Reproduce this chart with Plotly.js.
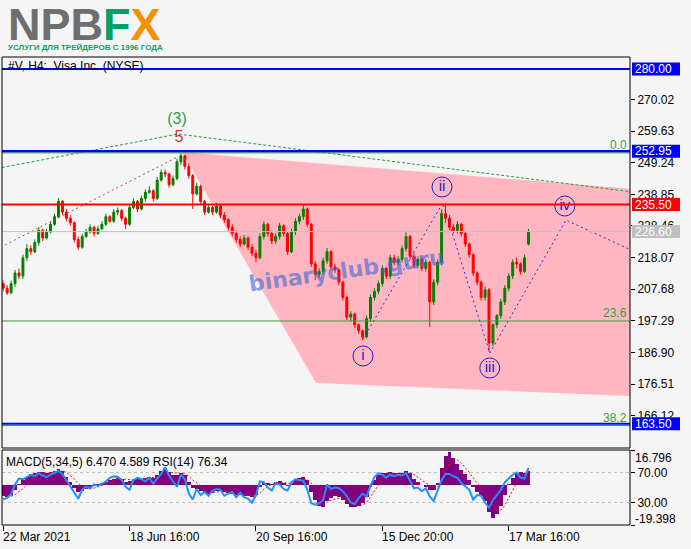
<!DOCTYPE html>
<html><head><meta charset="utf-8">
<script src="https://cdn.plot.ly/plotly-3.0.1.min.js"></script>
<style>html,body{margin:0;padding:0;background:#f5f5f5;}#chart{width:691px;height:549px;}</style>
</head><body><div id="chart"></div>
<script>
// ---- price data (H4 candles) ----
const opens=[
209.5,208.0,206.5,209.5,213.0,212.0,218.0,221.0,220.0,223.0,
227.0,224.5,226.5,229.0,231.5,236.5,233.0,231.0,229.5,224.0,
221.5,225.0,226.5,228.0,226.0,227.5,229.0,231.5,230.0,233.0,
233.5,231.0,229.0,234.5,236.5,234.0,237.5,239.5,240.0,237.5,
243.5,246.0,245.5,242.0,244.0,249.5,251.5,248.0,245.0,239.0,
241.5,236.5,233.0,234.5,233.0,235.0,232.0,230.5,228.0,226.0,
224.0,222.5,224.5,221.5,219.5,218.0,225.0,229.0,226.0,223.5,
225.0,228.5,226.0,220.0,226.5,230.0,231.5,234.0,229.0,216.0,
212.5,213.5,217.0,220.0,215.0,214.0,210.0,205.0,198.5,199.5,
196.0,194.0,192.0,198.0,205.0,207.0,209.5,214.5,212.0,218.0,
216.5,217.5,221.0,225.0,218.5,215.5,217.5,214.5,216.5,203.5,
210.0,216.5,232.5,231.0,228.0,227.0,229.0,226.0,222.5,219.0,
213.0,210.0,205.0,207.5,190.0,196.0,199.0,203.5,208.0,212.0,
216.5,216.0,213.5,222.5];
const highs=[
210.5,209.0,210.5,214.0,214.5,219.0,222.5,222.0,224.0,228.0,
227.5,227.5,230.0,232.5,237.6,237.0,234.0,232.0,230.0,225.0,
225.8,227.5,229.0,228.5,228.5,230.0,232.5,232.0,234.0,234.5,
234.0,231.5,235.5,237.5,237.0,238.5,240.5,241.5,240.5,244.5,
247.0,247.0,246.0,245.0,250.5,252.4,251.8,249.0,245.5,242.6,
242.0,237.0,235.5,235.0,236.0,235.5,233.0,231.0,229.0,227.0,
225.0,225.5,225.0,222.5,220.5,226.0,230.0,229.5,227.0,226.0,
229.5,229.0,226.5,227.5,231.0,232.5,235.6,234.5,229.5,217.0,
214.5,218.0,221.2,220.5,216.0,214.5,210.5,205.5,200.5,200.0,
196.5,194.5,199.0,206.0,208.0,210.5,215.5,215.0,219.0,219.0,
218.5,222.0,226.4,225.5,219.5,218.5,218.0,217.5,217.0,211.0,
217.5,234.0,235.9,232.0,229.0,230.0,229.5,226.5,223.0,219.5,
213.5,210.5,208.5,208.0,196.5,199.5,204.5,209.0,213.0,217.5,
218.0,216.5,219.0,227.5];
const lows=[
207.0,205.8,206.0,208.5,211.0,211.0,217.0,219.0,219.5,222.0,
223.5,224.0,226.0,228.5,231.0,232.0,230.0,228.5,223.0,220.6,
221.0,224.5,226.0,225.0,225.5,227.0,228.5,229.5,229.5,232.0,
230.0,227.5,228.5,234.0,233.0,233.5,236.5,239.0,236.5,237.0,
243.0,244.5,241.0,241.5,243.5,248.5,247.0,244.0,234.0,238.5,
235.5,232.0,232.5,232.0,232.5,231.0,229.5,227.0,225.0,223.0,
221.5,222.0,220.5,218.5,216.6,217.5,224.0,225.0,222.5,222.5,
224.0,225.0,219.0,219.5,225.5,229.0,230.5,228.0,215.0,210.7,
211.5,212.5,216.0,214.0,213.0,209.0,204.0,197.5,197.0,195.0,
193.0,190.9,191.5,197.0,204.0,206.0,208.5,211.0,211.0,215.5,
215.5,216.5,220.0,217.5,214.5,214.5,213.5,213.5,195.3,202.5,
209.0,215.5,229.5,227.0,226.0,226.0,225.0,221.5,218.0,212.0,
209.0,204.0,204.0,187.1,189.0,195.0,198.0,202.5,207.0,211.0,
214.5,212.5,213.0,222.0];
const closes=[
208.0,206.5,209.5,213.0,212.0,218.0,221.0,220.0,223.0,227.0,
224.5,226.5,229.0,231.5,236.5,233.0,231.0,229.5,224.0,221.5,
225.0,226.5,228.0,226.0,227.5,229.0,231.5,230.0,233.0,233.5,
231.0,229.0,234.5,236.5,234.0,237.5,239.5,240.0,237.5,243.5,
246.0,245.5,242.0,244.0,249.5,251.5,248.0,245.0,239.0,241.5,
236.5,233.0,234.5,233.0,235.0,232.0,230.5,228.0,226.0,224.0,
222.5,224.5,221.5,219.5,218.0,225.0,229.0,226.0,223.5,225.0,
228.5,226.0,220.0,226.5,230.0,231.5,234.0,229.0,216.0,212.5,
213.5,217.0,220.0,215.0,214.0,210.0,205.0,198.5,199.5,196.0,
194.0,192.0,198.0,205.0,207.0,209.5,214.5,212.0,218.0,216.5,
217.5,221.0,225.0,218.5,215.5,217.5,214.5,216.5,203.5,210.0,
216.5,232.5,231.0,228.0,227.0,229.0,226.0,222.5,219.0,213.0,
210.0,205.0,207.5,190.0,196.0,199.0,203.5,208.0,212.0,216.5,
216.0,213.5,218.0,226.6];
// ---- indicator data ----
const macd=[
-5.5,-6.0,-5.0,-2.5,0.5,2.5,4.0,5.0,5.5,6.0,
6.0,5.8,6.2,6.8,7.8,6.5,4.0,1.5,-1.5,-3.5,
-3.0,-2.0,-1.0,-0.5,0.3,0.8,1.5,2.5,3.0,3.5,
3.0,1.5,2.0,2.5,2.8,3.0,3.5,4.0,3.5,4.5,
6.5,8.3,6.0,4.8,4.5,5.5,4.5,1.5,-1.5,-1.8,
-3.0,-4.0,-4.2,-3.8,-3.0,-3.0,-3.5,-4.0,-4.5,-5.0,
-5.0,-5.2,-5.5,-6.0,-5.0,-1.0,1.0,1.0,0.5,1.2,
1.8,1.0,-0.5,1.0,2.5,3.5,4.0,2.5,-3.5,-7.5,
-10.0,-10.5,-8.0,-6.5,-5.5,-6.0,-7.5,-9.5,-10.5,-10.8,
-10.0,-9.0,-6.0,-1.0,2.5,4.5,5.5,5.5,6.0,5.8,
5.5,5.8,6.5,5.5,3.0,1.5,0.0,-1.0,-2.5,-2.5,
1.0,8.0,14.0,15.7,13.0,10.0,7.0,5.0,2.5,-1.0,
-3.5,-5.5,-8.0,-13.0,-15.8,-14.0,-10.0,-5.0,0.5,3.5,
5.5,6.2,5.8,6.47];
const signal=[
-5.0,-5.4,-5.5,-4.8,-3.5,-1.8,0.0,1.8,3.2,4.3,
5.1,5.5,5.8,6.1,6.6,6.7,6.0,4.6,2.8,0.8,
-0.8,-1.7,-1.9,-1.6,-1.0,-0.4,0.3,1.1,1.8,2.5,
2.8,2.6,2.4,2.4,2.5,2.7,3.0,3.4,3.5,3.8,
4.5,5.6,6.0,5.9,5.6,5.5,5.2,4.1,2.3,0.8,
-0.6,-1.9,-2.9,-3.4,-3.4,-3.3,-3.3,-3.5,-3.8,-4.2,
-4.6,-4.9,-5.1,-5.4,-5.3,-4.1,-2.2,-0.6,0.2,0.7,
1.1,1.1,0.7,0.6,1.1,1.8,2.6,2.6,0.9,-1.9,
-4.8,-7.2,-7.9,-7.6,-6.9,-6.5,-6.7,-7.5,-8.5,-9.5,
-9.9,-9.7,-8.5,-5.9,-2.9,-0.1,2.2,3.8,4.9,5.4,
5.5,5.6,5.9,5.8,4.9,3.7,2.3,0.8,-0.4,-1.3,
-0.9,2.1,6.4,10.3,12.3,12.0,10.5,8.4,6.0,3.4,
0.9,-1.5,-4.0,-6.9,-10.1,-12.3,-12.3,-10.0,-6.2,-2.3,
1.1,3.7,5.1,4.589];
const rsi=[
34,36,41,54,62,61,64,67,65,69,
66,64,67,70,72,68,60,51,44,35,
47,51,49,54,52,55,58,63,65,64,
60,51,47,60,63,61,58,63,55,62,
68,77,66,58,51,67,61,42,34,48,
40,44,39,46,48,47,39,42,44,37,
43,37,35,30,40,58,57,50,46,56,
54,48,46,57,61,60,59,47,29,27,
29,33,54,48,50,49,45,38,30,28,
36,42,38,52,64,69,67,63,67,65,
67,66,69,59,49,50,45,49,38,32,
46,60,68,68,65,63,56,51,47,34,
40,39,30,23,33,40,47,57,62,67,
70,63,62,76.34];
// ---- axes / labels ----
const xTickBars=[0,32,64,96,128];
const xTickLabels=['22 Mar 2021','18 Jun 16:00','20 Sep 16:00','15 Dec 20:00','17 Mar 16:00'];
const priceTicks=[166.12,176.51,186.90,197.29,207.68,218.07,228.46,238.85,249.24,259.63,270.02];
const levelValues=[280.00,252.95,235.50,226.60,163.50];
const levelColors=['#0000ff','#0000ff','#ff0000','#c0c0c0','#0000ff'];
const levelWidths=[2,2.5,2,1,2];
const fibValues=[252.45,197.25,162.9];
const fibLabels=['0.0','23.6','38.2'];
const macdLabels=['16.796','-19.398'];
const macdRange=[-19.398,16.796];
const rsiLevels=[70,30];
// ---- drawn objects (bar index, price) ----
const channelBars=[45.3,160,160,79.2];
const channelPrices=[252.7,240.5,172.5,176.9];
const waveBars=[91.1,111.3,123.2,142.5,161.2];
const wavePrices=[191.3,236.0,186.7,230.4,219.2];
const waveLabelBars=[91.1,111.1,123.2,142.2];
const waveLabelPrices=[185.75,241.25,181.8,235.0];
const waveLabels=['i','ii','iii','iv'];
const trendGreenBars=[-0.3,44.25,161.2];
const trendGreenPrices=[247.65,258.65,239.3];
const trendRedBars=[0.45,44.3];
const trendRedPrices=[222.2,251.2];
const degreeBars=[44.0,44.5];
const degreePrices=[263.3,257.3];
const degreeLabels=['(3)','5'];
const degreeColors=['#3a9a4a','#c83232'];

const bars=closes.map((_,i)=>i);
const FONT='Liberation Sans, Arial, sans-serif';
const PL=2,PT=57,PW=628,PH=468;
const px=(v)=>(v-PL)/PW, py=(v)=>(PT+PH-v)/PH;

const traces=[
 {type:'candlestick',x:bars,open:opens,high:highs,low:lows,close:closes,xaxis:'x',yaxis:'y',
  increasing:{line:{color:'#008000',width:1},fillcolor:'#008000'},
  decreasing:{line:{color:'#ff0000',width:1},fillcolor:'#ff0000'},
  whiskerwidth:0,hoverinfo:'skip',showlegend:false},
 {type:'scatter',mode:'lines',x:trendGreenBars,y:trendGreenPrices,line:{color:'#2f9a2f',width:1,dash:'3px,2px'},hoverinfo:'skip',showlegend:false},
 {type:'scatter',mode:'lines',x:trendRedBars,y:trendRedPrices,line:{color:'#b04848',width:1,dash:'2px,3px'},hoverinfo:'skip',showlegend:false},
 {type:'scatter',mode:'lines',x:waveBars,y:wavePrices,line:{color:'#2a2ad0',width:1,dash:'2px,3px'},hoverinfo:'skip',showlegend:false},
 {type:'scatter',mode:'markers+text',x:waveLabelBars,y:waveLabelPrices,text:waveLabels,textposition:'middle center',
  textfont:{family:FONT,size:15,color:'#2020d0'},
  marker:{symbol:'circle-open',size:20,color:'#2020d0',line:{width:1,color:'#2020d0'}},cliponaxis:false,hoverinfo:'skip',showlegend:false},
 {type:'scatter',mode:'text',x:degreeBars,y:degreePrices,text:degreeLabels,textposition:'middle center',
  textfont:{family:FONT,size:16,color:degreeColors},cliponaxis:false,hoverinfo:'skip',showlegend:false},
 {type:'bar',x:bars,y:macd,xaxis:'x',yaxis:'y2',width:1,marker:{color:'#800080',line:{width:0}},hoverinfo:'skip',showlegend:false},
 {type:'scatter',mode:'lines',x:bars,y:signal,xaxis:'x',yaxis:'y2',line:{color:'#ff0000',width:1,dash:'2px,2px'},hoverinfo:'skip',showlegend:false},
 {type:'scatter',mode:'lines',x:bars,y:rsi,xaxis:'x',yaxis:'y3',line:{color:'#1e90ff',width:2},hoverinfo:'skip',showlegend:false}
];

const shapes=[];
// channel
let path='M'+channelBars.map((b,i)=>b+','+channelPrices[i]).join(' L')+' Z';
shapes.push({type:'path',xref:'x',yref:'y',path:path,fillcolor:'#ffb6c1',line:{width:0},layer:'below'});
// horizontal levels
levelValues.forEach((v,i)=>{
 shapes.push({type:'line',xref:'paper',yref:'y',x0:0,x1:1,y0:v,y1:v,line:{color:levelColors[i],width:levelWidths[i]},layer:'above'});
});
fibValues.forEach(v=>{
 shapes.push({type:'line',xref:'paper',yref:'y',x0:0,x1:1,y0:v,y1:v,line:{color:'#3c9c3c',width:1},layer:'above'});
});
// rsi levels
rsiLevels.forEach(v=>{
 shapes.push({type:'line',xref:'paper',yref:'y3',x0:0,x1:1,y0:v,y1:v,line:{color:'#c0c0c0',width:1,dash:'3px,3px'},layer:'below'});
});
// price boxes on right axis
levelValues.forEach((v,i)=>{
 shapes.push({type:'rect',xref:'paper',yref:'y',xsizemode:'pixel',ysizemode:'pixel',xanchor:1,yanchor:v,
  x0:2,x1:50,y0:-6.5,y1:6.5,fillcolor:levelColors[i],line:{width:0},layer:'above'});
});
// panel borders
shapes.push({type:'rect',xref:'paper',yref:'paper',x0:0,x1:1,y0:py(448),y1:1,line:{color:'#000',width:1},layer:'above'});
shapes.push({type:'rect',xref:'paper',yref:'paper',x0:0,x1:1,y0:0,y1:py(450),line:{color:'#000',width:1},layer:'above'});

const ann=[];
levelValues.forEach(v=>{
 ann.push({xref:'paper',yref:'y',x:1,y:v,xanchor:'left',yanchor:'middle',xshift:3,text:v.toFixed(2),showarrow:false,
  font:{family:FONT,size:12,color:'#ffffff'}});
});
fibValues.forEach((v,i)=>{
 ann.push({xref:'paper',yref:'y',x:1,y:v,xanchor:'right',yanchor:'bottom',xshift:-1,yshift:-1,text:fibLabels[i],showarrow:false,
  font:{family:FONT,size:12,color:'#3c9c3c'}});
});
xTickBars.forEach((b,i)=>{
 ann.push({xref:'x',yref:'paper',x:b,y:0,xanchor:'left',yanchor:'top',yshift:-3,xshift:-2,text:xTickLabels[i],showarrow:false,
  font:{family:FONT,size:12,color:'#000'}});
});
ann.push({xref:'paper',yref:'paper',x:1,y:py(457.5),xanchor:'left',yanchor:'middle',xshift:3,text:macdLabels[0],showarrow:false,font:{family:FONT,size:12,color:'#000'}});
ann.push({xref:'paper',yref:'paper',x:1,y:py(519),xanchor:'left',yanchor:'middle',xshift:3,text:macdLabels[1],showarrow:false,font:{family:FONT,size:12,color:'#000'}});
ann.push({xref:'paper',yref:'paper',x:px(4),y:py(462),xanchor:'left',yanchor:'middle',
 text:'MACD(5,34,5) '+macd[macd.length-1].toFixed(3)+' '+signal[signal.length-1].toFixed(3)+' RSI(14) '+rsi[rsi.length-1].toFixed(2),
 showarrow:false,font:{family:FONT,size:12,color:'#000'}});
ann.push({xref:'paper',yref:'paper',x:px(6),y:py(66),xanchor:'left',yanchor:'middle',text:'#V, H4:\u00a0 Visa Inc. (NYSE)',
 showarrow:false,font:{family:FONT,size:12,color:'#000'}});
ann.push({xref:'paper',yref:'paper',x:px(346),y:py(270),xanchor:'center',yanchor:'middle',text:'binaryclub.guru',textangle:-8,
 showarrow:false,font:{family:'DejaVu Sans, sans-serif',size:22,color:'rgba(60,100,210,0.62)',weight:'bold'}});
// logo
ann.push({xref:'paper',yref:'paper',x:px(6),y:py(24),xanchor:'left',yanchor:'middle',
 text:'<span style="color:#6d6e71">NPB</span><span style="color:#00a06a">F</span><span style="color:#f39200">X</span>',
 showarrow:false,font:{family:'Liberation Sans, Arial, sans-serif',size:45,weight:'bold',color:'#6d6e71'}});
ann.push({xref:'paper',yref:'paper',x:px(6),y:py(47.5),xanchor:'left',yanchor:'middle',text:'УСЛУГИ ДЛЯ ТРЕЙДЕРОВ С 1996 ГОДА',
 showarrow:false,font:{family:'Liberation Sans, Arial, sans-serif',size:8,weight:'bold',color:'#169b62'}});

const layout={
 width:691,height:549,margin:{l:PL,r:691-PL-PW,t:PT,b:549-PT-PH,pad:0},
 paper_bgcolor:'#f5f5f5',plot_bgcolor:'#f5f5f5',showlegend:false,
 font:{family:FONT,size:12,color:'#000'},
 xaxis:{range:[-0.3,158.7],anchor:'y2',tickvals:xTickBars,showticklabels:false,ticks:'outside',ticklen:5,tickcolor:'#000',
  showgrid:false,zeroline:false,showline:false,rangeslider:{visible:false},fixedrange:true},
 yaxis:{domain:[py(448),1],range:[155.53,283.94],side:'right',anchor:'x',tickvals:priceTicks,ticktext:priceTicks.map(v=>v.toFixed(2)),
  ticks:'outside',ticklen:4,tickcolor:'#000',showgrid:false,zeroline:false,showline:false,tickfont:{family:FONT,size:12,color:'#000'}},
 yaxis2:{domain:[0,py(450)],range:macdRange,side:'right',anchor:'x',tickvals:macdRange,ticktext:['',''],ticks:'outside',ticklen:4,tickcolor:'#000',
  showgrid:false,zeroline:false,showline:false},
 yaxis3:{overlaying:'y2',range:[0,100],side:'right',anchor:'x',tickvals:rsiLevels,ticktext:rsiLevels.map(v=>v.toFixed(2)),ticks:'outside',ticklen:4,
  tickcolor:'#000',showgrid:false,zeroline:false,showline:false,tickfont:{family:FONT,size:12,color:'#000'}},
 shapes:shapes,annotations:ann,bargap:0
};
Plotly.newPlot('chart',traces,layout,{staticPlot:true,displayModeBar:false});
</script></body></html>
